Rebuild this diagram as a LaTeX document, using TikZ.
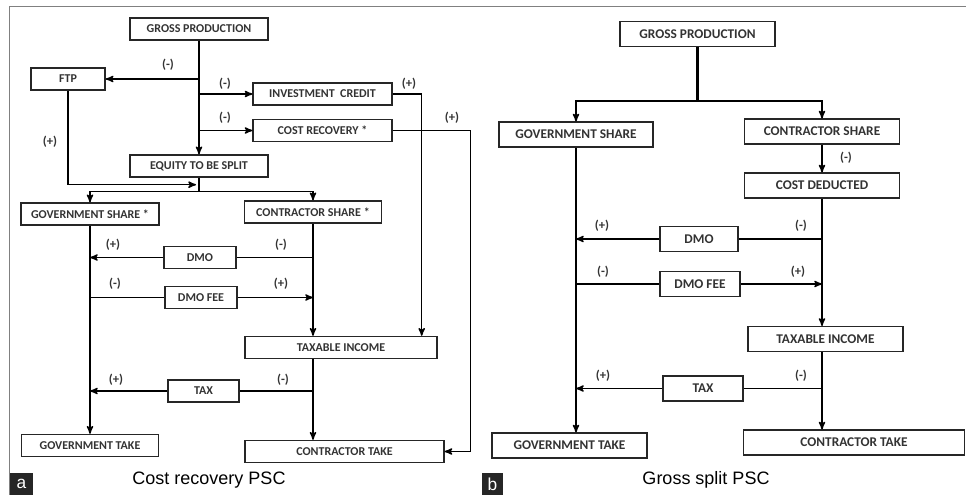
\documentclass[tikz,border=0pt]{standalone}
\usepackage{fontspec}
\setmainfont{Carlito}
\newfontfamily\capfont{Liberation Sans}
\usetikzlibrary{calc}
\usetikzlibrary{arrows}

\tikzset{
  box/.style={draw=black!85, line width=1.05pt, fill=white, inner sep=0pt, minimum height=16.5pt, text=black!80, font=\bfseries\fontsize{9}{10}\selectfont},
  boxR/.style={box, minimum height=18.5pt, font=\bfseries\fontsize{10}{11}\selectfont},
  sign/.style={text=black!80, font=\bfseries\fontsize{9.5}{10}\selectfont},
  tag/.style={fill=black!85, text=white, inner sep=0pt, minimum height=16.5pt, font=\capfont\fontsize{13}{13}\selectfont},
  caption/.style={anchor=base, font=\capfont\fontsize{13.5}{15}\selectfont}
}

\begin{document}
\begin{tikzpicture}[x=0.75pt, y=-0.75pt, line width=1.05pt, >=stealth']
\useasboundingbox (0,0) rectangle (966,495);
\draw[black!50, line width=1pt] (9.5,495) -- (9.5,6.5) -- (966,6.5);

% cost recovery PSC
\node[box, minimum width=103.5pt] (gpL) at (199,29) {GROSS PRODUCTION};
\node[box, minimum width=55.5pt] (ftp) at (68,79) {FTP};
\node[box, minimum width=104pt] (icL) at (322.5,94) {INVESTMENT\ \ CREDIT};
\node[box, minimum width=104pt] (crL) at (322.5,130.5) {COST RECOVERY *};
\node[box, minimum width=103.5pt] (eqL) at (199,166) {EQUITY TO BE SPLIT};
\node[box, minimum width=103.5pt] (gsL) at (90,214) {GOVERNMENT SHARE *};
\node[box, minimum width=103pt] (csL) at (313,212) {CONTRACTOR SHARE *};
\node[box, minimum width=54pt] (dmoL) at (200,257.5) {DMO};
\node[box, minimum width=54pt] (dfL) at (201,297.5) {DMO FEE};
\node[box, minimum width=144pt] (tiL) at (341,347.5) {TAXABLE INCOME};
\node[box, minimum width=53pt] (taxL) at (203.5,391) {TAX};
\node[box, minimum width=103pt] (gtL) at (90,445.5) {GOVERNMENT TAKE};
\node[box, minimum width=149pt] (ctL) at (344.5,451.5) {CONTRACTOR TAKE};

\coordinate (joinL) at ($(eqL.south)+(0,7)$);
\coordinate (splitL) at ($(eqL.south)+(0,14)$);
\draw[->] (gpL.south) -- (eqL.north);
\draw[->] (gpL.south |- ftp.east) -- (ftp.east);
\draw[->] (gpL.south |- icL.west) -- (icL.west);
\draw[->] (gpL.south |- crL.west) -- (crL.west);
\draw[->] (ftp.south) |- ($(joinL)+(-3,0)$);
\draw (eqL.south) -- (splitL);
\draw[->] (splitL) -| (gsL.north);
\draw[->] (splitL) -| (csL.north);
\draw[->] (icL.east) -| ($(tiL.north east)+(-16,0)$);
\draw[->] (crL.east) -- ++(78,0) |- (ctL.east);
\draw[->] (gsL.south) -- (gtL.north);
\draw[->] (csL.south) -- (csL.south |- tiL.north);
\draw (csL.south |- dmoL.east) -- (dmoL.east);
\draw[->] (dmoL.west) -- (gsL.south |- dmoL.west);
\draw (gsL.south |- dfL.west) -- (dfL.west);
\draw[->] (dfL.east) -- (csL.south |- dfL.east);
\draw (csL.south |- taxL.east) -- (taxL.east);
\draw[->] (taxL.west) -- (gsL.south |- taxL.west);
\draw[->] (csL.south |- tiL.south) -- (csL.south |- ctL.north);

\node[sign] (sL1) at (168,65) {(-)};
\node[sign] (sL2) at (225,84) {(-)};
\node[sign] (sL3) at (409,84) {(+)};
\node[sign] (sL4) at (225,118) {(-)};
\node[sign] (sL5) at (452,118) {(+)};
\node[sign] (sL6) at (50,142) {(+)};
\node[sign] (sL7) at (113,245) {(+)};
\node[sign] (sL8) at (281,245) {(-)};
\node[sign] (sL9) at (115,284) {(-)};
\node[sign] (sL10) at (281,284) {(+)};
\node[sign] (sL11) at (116,380) {(+)};
\node[sign] (sL12) at (283,380) {(-)};

\node[tag, minimum width=17.25pt] (tagA) at (21.5,484) {a};
\node[caption] (capA) at (209,484) {Cost recovery PSC};

% gross split PSC
\node[boxR, minimum width=116pt] (gpR) at (697.5,34) {GROSS PRODUCTION};
\node[boxR, minimum width=115.5pt] (gsR) at (576,134.5) {GOVERNMENT SHARE};
\node[boxR, minimum width=116pt] (csR) at (822,131.5) {CONTRACTOR SHARE};
\node[boxR, minimum width=116pt] (cdR) at (822,185.5) {COST DEDUCTED};
\node[boxR, minimum width=58.5pt] (dmoR) at (699,239) {DMO};
\node[boxR, minimum width=60pt] (dfR) at (700,284) {DMO FEE};
\node[boxR, minimum width=116pt] (tiR) at (825.5,339) {TAXABLE INCOME};
\node[boxR, minimum width=60pt] (taxR) at (703,388.5) {TAX};
\node[boxR, minimum width=116pt] (gtR) at (569.5,445.5) {GOVERNMENT TAKE};
\node[boxR, minimum width=166pt] (ctR) at (854,442.5) {CONTRACTOR TAKE};

\coordinate (splitR) at ($(gpR.south)+(0,54)$);
\draw[line width=1.6pt] (gpR.south) -- (splitR);
\draw[->] (splitR) -| (gsR.north);
\draw[->] (splitR) -| (csR.north);
\draw[->] (csR.south) -- (cdR.north);
\draw[->] (cdR.south) -- (cdR.south |- tiR.north);
\draw (cdR.south |- dmoR.east) -- (dmoR.east);
\draw[->] (dmoR.west) -- (gsR.south |- dmoR.west);
\draw (gsR.south |- dfR.west) -- (dfR.west);
\draw[->] (dfR.east) -- (cdR.south |- dfR.east);
\draw (cdR.south |- taxR.east) -- (taxR.east);
\draw[->] (taxR.west) -- (gsR.south |- taxR.west);
\draw[->] (cdR.south |- tiR.south) -- (cdR.south |- ctR.north);
\draw[->] (gsR.south) -- (gsR.south |- gtR.north);

\node[sign] (sR1) at (846,158) {(-)};
\node[sign] (sR2) at (602,226) {(+)};
\node[sign] (sR3) at (801,226) {(-)};
\node[sign] (sR4) at (603,272) {(-)};
\node[sign] (sR5) at (798,272) {(+)};
\node[sign] (sR6) at (603,376) {(+)};
\node[sign] (sR7) at (801,376) {(-)};

\node[tag, minimum width=15.75pt] (tagB) at (492.5,484) {b};
\node[caption] (capB) at (706,484) {Gross split PSC};
\end{tikzpicture}
\end{document}
